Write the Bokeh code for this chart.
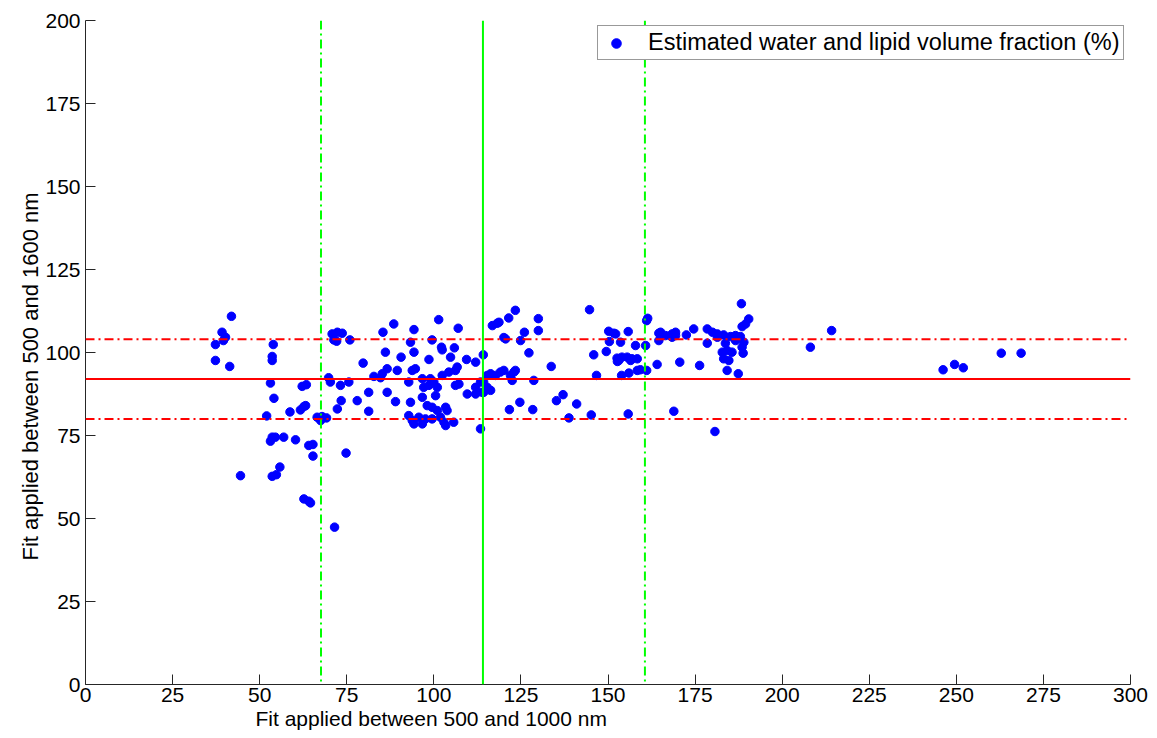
from bokeh.plotting import figure
from bokeh.models import Span, Title, FixedTicker
from bokeh.embed import file_html
from bokeh.resources import INLINE

x_vals = [
    41.9, 39.2, 40.2, 39.6, 37.3, 37.3, 41.4, 44.5,
    53.9, 53.6, 53.6, 53.1, 54.1, 52.0, 53.6, 54.5, 56.9, 53.1, 60.3, 55.8, 53.6, 54.8,
    58.7, 61.7, 62.7, 63.2, 62.2, 63.4, 64.1, 65.3, 65.3, 62.7, 64.1, 64.6, 66.5, 67.9, 69.2, 67.5, 71.5,
    69.8, 70.3, 73.2, 75.6, 72.3, 73.4, 78.0, 81.3, 81.3, 74.8, 70.8, 72.3, 73.7, 71.3, 72.1, 75.9, 79.7,
    85.4, 86.1, 86.6, 86.6, 82.8, 84.7, 85.2, 88.5,
    94.3, 101.4, 107.0, 99.5, 93.3, 94.3, 90.6, 98.6, 102.2, 102.4, 105.9, 104.8, 109.4, 112.0, 114.2,
    116.8, 118.2, 118.7, 121.5, 123.4, 120.1, 120.6, 126.0, 124.9, 130.0, 130.0, 127.3, 133.7,
    89.5, 93.8, 94.7, 92.8, 96.7, 99.0, 100.0, 98.6, 101.0, 102.4, 104.3, 106.2, 106.7, 107.2, 106.2,
    100.5, 89.0, 93.3, 96.7, 97.1,
    109.6, 112.0, 113.9, 112.0, 113.4,
    115.3, 116.3, 117.7, 119.1, 120.1, 122.0, 123.0, 123.4, 122.5, 114.3, 115.3, 116.3, 114.3,
    98.1, 99.5, 101.0, 103.4, 103.8, 92.8, 93.8, 95.7, 97.6, 99.5, 101.9, 102.9, 94.3, 96.7, 103.4, 105.7, 113.4,
    128.7, 124.7, 121.7, 128.4, 135.2, 137.1, 141.0, 138.8,
    144.7, 150.2, 151.7, 152.2, 155.8, 150.4, 153.6, 157.9, 145.9, 149.5, 152.6, 154.0, 155.5, 156.9, 158.4,
    153.1, 152.7, 156.5, 146.7, 153.9, 156.0, 158.4, 159.3, 161.1, 160.8, 161.1, 161.4, 145.2, 155.8,
    164.1, 164.6, 165.1, 164.6, 166.5, 168.4, 169.4, 169.4, 168.4, 172.5, 174.6, 170.6, 176.3, 168.9,
    178.5, 180.0, 181.4, 183.2, 185.2, 186.6, 188.0, 181.4, 178.5, 183.7, 186.6, 182.8, 184.2, 185.6,
    183.2, 184.7, 184.2, 187.4, 189.0, 188.5, 188.8, 188.3, 188.5, 189.5, 190.4, 180.7,
    208.1, 214.2, 246.2, 249.5, 252.0, 262.9, 268.6,
]
y_vals = [
    110.9, 106.1, 104.6, 103.6, 102.4, 97.6, 95.8, 62.9,
    102.4, 98.8, 97.6, 90.8, 86.2, 80.9, 74.5, 74.5, 74.5, 73.3, 73.7, 65.5, 62.7, 63.2,
    82.1, 82.7, 83.7, 84.0, 89.8, 90.3, 72.0, 72.3, 68.8, 55.9, 55.2, 54.7, 80.5, 80.7, 80.3, 79.5, 47.4,
    92.4, 91.1, 90.1, 91.1, 83.0, 85.5, 85.5, 88.0, 82.3, 69.7, 105.6, 106.1, 105.8, 103.8, 103.4, 103.8, 96.8,
    106.1, 100.1, 95.1, 88.0, 92.8, 92.4, 93.6, 108.6,
    106.9, 109.9, 107.3, 103.8, 103.1, 100.1, 98.6, 97.9, 101.6, 100.8, 101.4, 98.6, 97.9, 97.1, 99.3,
    108.1, 108.8, 109.1, 110.4, 112.7, 104.5, 104.1, 106.1, 103.6, 110.2, 106.6, 99.9, 95.8,
    94.6, 94.6, 95.1, 91.1, 92.1, 92.1, 91.1, 90.1, 89.5, 93.1, 94.1, 94.6, 95.6, 90.5, 90.1,
    87.0, 85.2, 85.0, 86.5, 89.5,
    87.5, 87.5, 88.0, 89.5, 91.1,
    93.1, 93.6, 93.1, 94.1, 94.6, 93.1, 94.1, 94.6, 91.6, 91.1, 89.5, 88.6, 88.0,
    84.0, 83.5, 82.5, 83.5, 82.5, 81.0, 79.5, 80.5, 80.0, 80.0, 80.5, 79.0, 78.5, 78.5, 78.0, 79.0, 77.0,
    91.6, 85.0, 82.8, 82.8, 85.5, 87.3, 84.5, 80.3,
    112.9, 106.4, 105.8, 105.6, 106.3, 103.3, 103.1, 102.1, 99.3, 100.3, 98.3, 98.6, 98.6, 98.1, 98.1,
    97.6, 97.3, 97.6, 93.1, 93.1, 93.8, 94.6, 94.8, 94.6, 102.1, 109.6, 110.3, 81.2, 81.5,
    96.4, 105.8, 106.1, 103.6, 105.1, 105.6, 106.1, 105.1, 104.6, 105.3, 107.1, 97.1, 96.1, 82.3,
    107.1, 106.1, 105.6, 105.3, 104.8, 105.1, 104.8, 104.6, 102.8, 102.8, 103.6, 100.1, 100.6, 100.1,
    98.1, 97.6, 94.6, 93.6, 103.1, 101.6, 99.8, 114.7, 107.8, 108.6, 110.1, 76.2,
    101.6, 106.6, 94.8, 96.4, 95.4, 99.8, 99.8,
]

legend_text = "Estimated water and lipid volume fraction (%)"
x_label = "Fit applied between 500 and 1000 nm"
y_label = "Fit applied between 500 and 1600 nm"
x_ticks = [0, 25, 50, 75, 100, 125, 150, 175, 200, 225, 250, 275, 300]
y_ticks = [0, 25, 50, 75, 100, 125, 150, 175, 200]
# horizontal reference lines: mean - std, mean, mean + std of the y values
red_lines = [80.0, 92.0, 104.0]
# vertical reference lines: mean - std, mean, mean + std of the x values
green_lines = [67.6, 114.1, 160.6]

FONT = "Liberation Sans"

p = figure(width=1157, height=738, x_range=(0, 300), y_range=(0, 200),
           output_backend="svg", toolbar_location=None,
           min_border_left=85, min_border_right=27, min_border_top=20, min_border_bottom=54)
p.outline_line_color = None
p.xgrid.visible = False
p.ygrid.visible = False
p.background_fill_color = "white"
p.border_fill_color = "white"

p.scatter(x_vals, y_vals, size=8.5, color="#0000FF", legend_label=legend_text)

for i, v in enumerate(red_lines):
    p.add_layout(Span(location=v, dimension="width", line_color="#FF0000", line_width=2,
                      line_dash="solid" if i == 1 else "9 4 2 4"))
for i, v in enumerate(green_lines):
    p.add_layout(Span(location=v, dimension="height", line_color="#00FF00", line_width=2,
                      line_dash="solid" if i == 1 else "9 4 2 4"))

for ax, ticks in ((p.xaxis, x_ticks), (p.yaxis, y_ticks)):
    ax.ticker = FixedTicker(ticks=ticks)
    ax.major_tick_in = 10
    ax.major_tick_out = 0
    ax.minor_tick_in = 0
    ax.minor_tick_out = 0
    ax.axis_line_color = "#262626"
    ax.major_tick_line_color = "#262626"
    ax.major_label_text_font = FONT
    ax.major_label_text_font_size = "21px"
    ax.major_label_text_color = "black"
p.xaxis.major_label_standoff = 3
p.yaxis.major_label_standoff = 5

p.add_layout(Title(text=x_label, align="left", offset=170, text_font=FONT, text_color="black",
                   text_font_size="21px", text_font_style="normal", standoff=0), "below")
p.add_layout(Title(text=y_label, align="left", offset=124, text_font=FONT, text_color="black",
                   text_font_size="22px", text_font_style="normal", standoff=0), "left")

lg = p.legend[0]
lg.location = (512, 624)
lg.label_text_font = FONT
lg.label_text_font_size = "23.5px"
lg.label_text_color = "black"
lg.label_standoff = 17
lg.glyph_width = 30
lg.glyph_height = 24
lg.label_height = 24
lg.padding = 3
lg.margin = 0
lg.spacing = 0
lg.border_line_color = "#333333"
lg.border_line_width = 1
lg.background_fill_alpha = 1

open("out.html", "w").write(file_html(p, INLINE))
